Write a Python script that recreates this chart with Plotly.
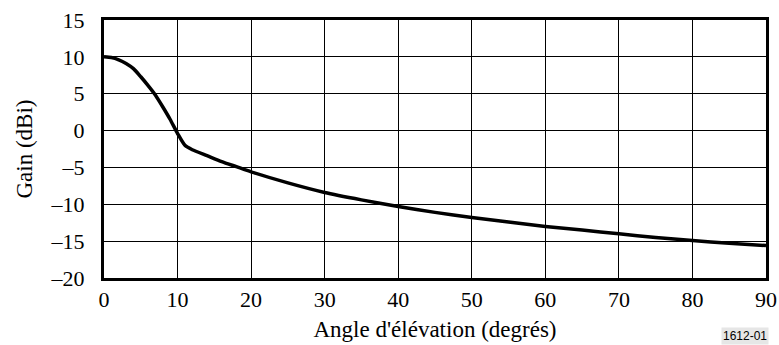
import plotly.graph_objects as go

angle_deg = [0, 1, 2, 3, 4, 5, 6, 7, 8, 9, 10, 11, 12, 14, 16, 18, 20, 25, 30, 35,
             40, 45, 50, 55, 60, 65, 70, 75, 80, 85, 90]
gain_dbi = [10.0, 9.9, 9.6, 9.1, 8.4, 7.3, 6.1, 4.8, 3.2, 1.5, -0.4, -2.0, -2.6, -3.4,
            -4.2, -4.9, -5.6, -7.1, -8.4, -9.4, -10.3, -11.1, -11.8, -12.4, -13.0,
            -13.5, -14.0, -14.5, -14.9, -15.3, -15.6]

x_ticks = [0, 10, 20, 30, 40, 50, 60, 70, 80, 90]
y_ticks = [15, 10, 5, 0, -5, -10, -15, -20]
y_tick_text = [str(v).replace("-", "\u2013") for v in y_ticks]

font_family = "Liberation Serif"

fig = go.Figure()
fig.add_trace(go.Scatter(x=angle_deg, y=gain_dbi, mode="lines",
                         line=dict(color="black", width=3.5, shape="spline", smoothing=0.6),
                         showlegend=False, hoverinfo="skip"))

fig.update_layout(
    width=779, height=345,
    margin=dict(l=104, r=13, t=20, b=67),
    paper_bgcolor="white", plot_bgcolor="white",
    font=dict(family=font_family, size=22, color="black"),
    xaxis=dict(range=[0, 90], tickvals=x_ticks, ticktext=[str(v) for v in x_ticks],
               showgrid=True, gridcolor="black", gridwidth=1,
               showline=True, linecolor="black", linewidth=3, mirror=True,
               ticks="", zeroline=False, automargin=False,
               ticklabelstandoff=0, ticklabeloverflow="allow",
               title=dict(text="Angle d'élévation (degrés)", standoff=10,
                          font=dict(family=font_family, size=23))),
    yaxis=dict(range=[-20, 15], tickvals=y_ticks, ticktext=y_tick_text,
               showgrid=True, gridcolor="black", gridwidth=1,
               showline=True, linecolor="black", linewidth=3, mirror=True,
               ticks="", zeroline=False, automargin=False, ticklabelstandoff=12,
               ticklabeloverflow="allow",
               title=dict(text="Gain (dBi)", standoff=12,
                          font=dict(family=font_family, size=23))),
)

fig.add_annotation(text="1612-01", xref="paper", yref="paper", x=1.004, y=-0.2597,
                   xanchor="right", yanchor="bottom", showarrow=False,
                   bgcolor="#e6e6e6", borderpad=1,
                   font=dict(family="Liberation Sans", size=12, color="black"))

fig.write_html("out.html",
               config={"displayModeBar": False, "staticPlot": True},
               post_script="document.body.style.margin='0';document.body.style.overflow='hidden';")
